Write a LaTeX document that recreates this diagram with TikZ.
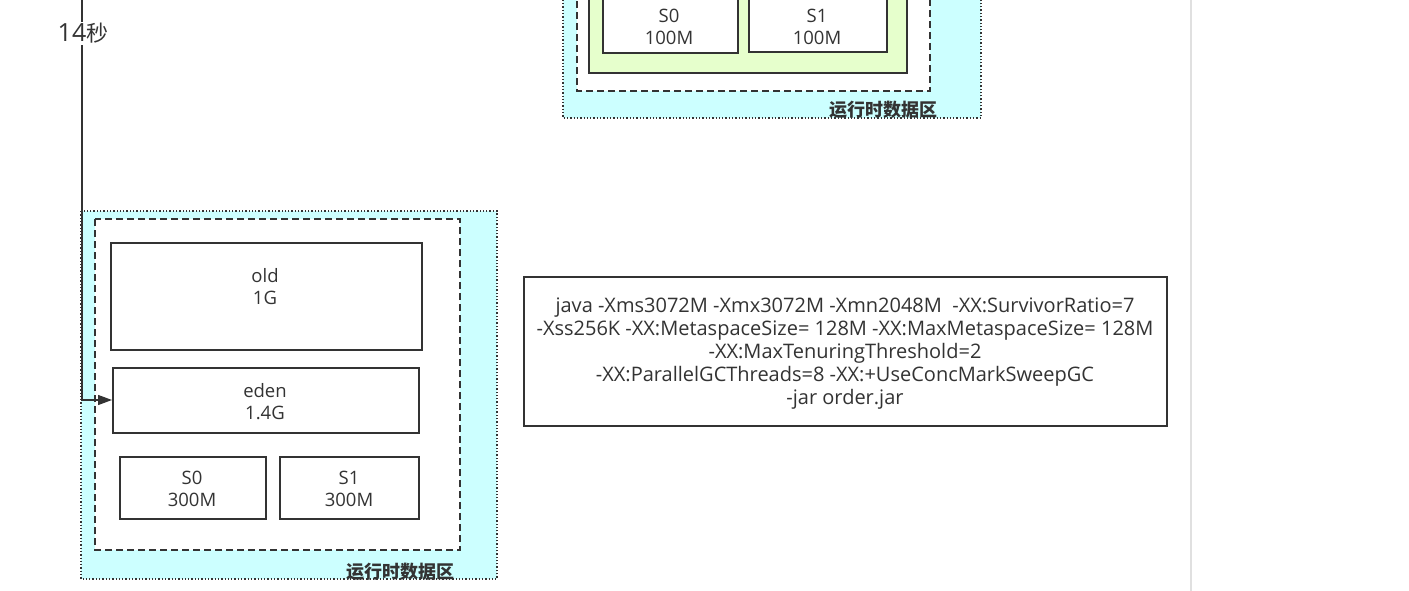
\documentclass[tikz,border=0pt]{standalone}
\usepackage{fontspec}
\setmainfont{Open Sans}
\newfontfamily\cjk{Noto Sans CJK SC}
\usetikzlibrary{arrows.meta}
\definecolor{ink}{HTML}{333333}
\definecolor{cyanfill}{HTML}{CCFFFF}
\definecolor{greenfill}{HTML}{E6FFCC}
\tikzset{
  region/.style={draw=ink, line width=1.3pt, dotted, fill=cyanfill},
  heapbox/.style={draw=ink, line width=1.5pt, dash pattern=on 7pt off 4pt, fill=white},
  genbox/.style={draw=ink, line width=1.8pt, fill=greenfill},
  membox/.style={draw=ink, line width=1.8pt, fill=white},
  memtext/.style={text=ink, font=\fontsize{18.5}{22}\selectfont, align=center, inner sep=0pt},
  regionlabel/.style={text=ink, font=\cjk\bfseries\fontsize{18}{20}\selectfont, inner sep=0pt},
  cmdtext/.style={text=ink, font=\fontsize{20}{23}\selectfont, align=center, inner sep=0pt},
  flow/.style={draw=ink, line width=1.3pt, -{Triangle[length=14pt,width=10pt]}},
}
\begin{document}
\begin{tikzpicture}[x=1pt,y=-1pt]
\useasboundingbox (0,0) rectangle (1409,591);
\fill[white] (0,0) rectangle (1409,591);
\draw[color={rgb,255:red,224;green,224;blue,224}, line width=1.2pt] (1191,0) -- (1191,591);

% top (cut-off) diagram
\draw[region] (563,-10) rectangle (981,118);
\draw[heapbox] (577,-10) rectangle (930,91);
\draw[genbox] (589,-10) rectangle (907,73);
\node[membox, minimum width=135pt, minimum height=64pt, anchor=south west] (ts0) at (602,54) {};
\node[membox, minimum width=138pt, minimum height=64pt, anchor=south west] (ts1) at (748,53) {};
\node[memtext] at (669,26.5) {S0\\100M};
\node[memtext] at (817,26.5) {S1\\100M};
\node[regionlabel] (tlab) at (883,110) {运行时数据区};

% bottom diagram
\draw[region] (81,211) rectangle (497,579);
\draw[heapbox] (95,219) rectangle (460,550);
\node[membox, minimum width=311pt, minimum height=107pt, anchor=north west] (old) at (110,242) {};
\node[memtext] at (265,286.5) {old\\1G};
\node[membox, minimum width=306pt, minimum height=65pt, anchor=north west] (eden) at (112,367) {};
\node[memtext] at (265,402) {eden\\1.4G};
\node[membox, minimum width=146pt, minimum height=62pt, anchor=north west] (s0) at (119,456) {};
\node[memtext] at (192,488.5) {S0\\300M};
\node[membox, minimum width=139pt, minimum height=62pt, anchor=north west] (s1) at (279,456) {};
\node[memtext] at (349,488.5) {S1\\300M};
\node[regionlabel] (blab) at (400,572) {运行时数据区};

% timeline
\coordinate (tstart) at (82,0);
\coordinate (tcorner) at (82,400);
\draw[flow] (tstart) -- (tcorner) -- (eden.west |- tcorner);
\node[fill=white, text=ink, inner sep=1pt, font=\fontsize{25}{27}\selectfont] (time) at (83,33.5) {14{\cjk\fontsize{22}{27}\selectfont 秒}};

% command box
\node[draw=ink, line width=1.8pt, minimum width=643pt, minimum height=149pt, anchor=north west] (cmdbox) at (523,276) {};
\node[cmdtext] (cmd) at (845,354) {java -Xms3072M -Xmx3072M -Xmn2048M~ -XX:SurvivorRatio=7\\-Xss256K -XX:MetaspaceSize= 128M -XX:MaxMetaspaceSize= 128M\\-XX:MaxTenuringThreshold=2\\-XX:ParallelGCThreads=8 -XX:+UseConcMarkSweepGC\\-jar order.jar};
\end{tikzpicture}
\end{document}
